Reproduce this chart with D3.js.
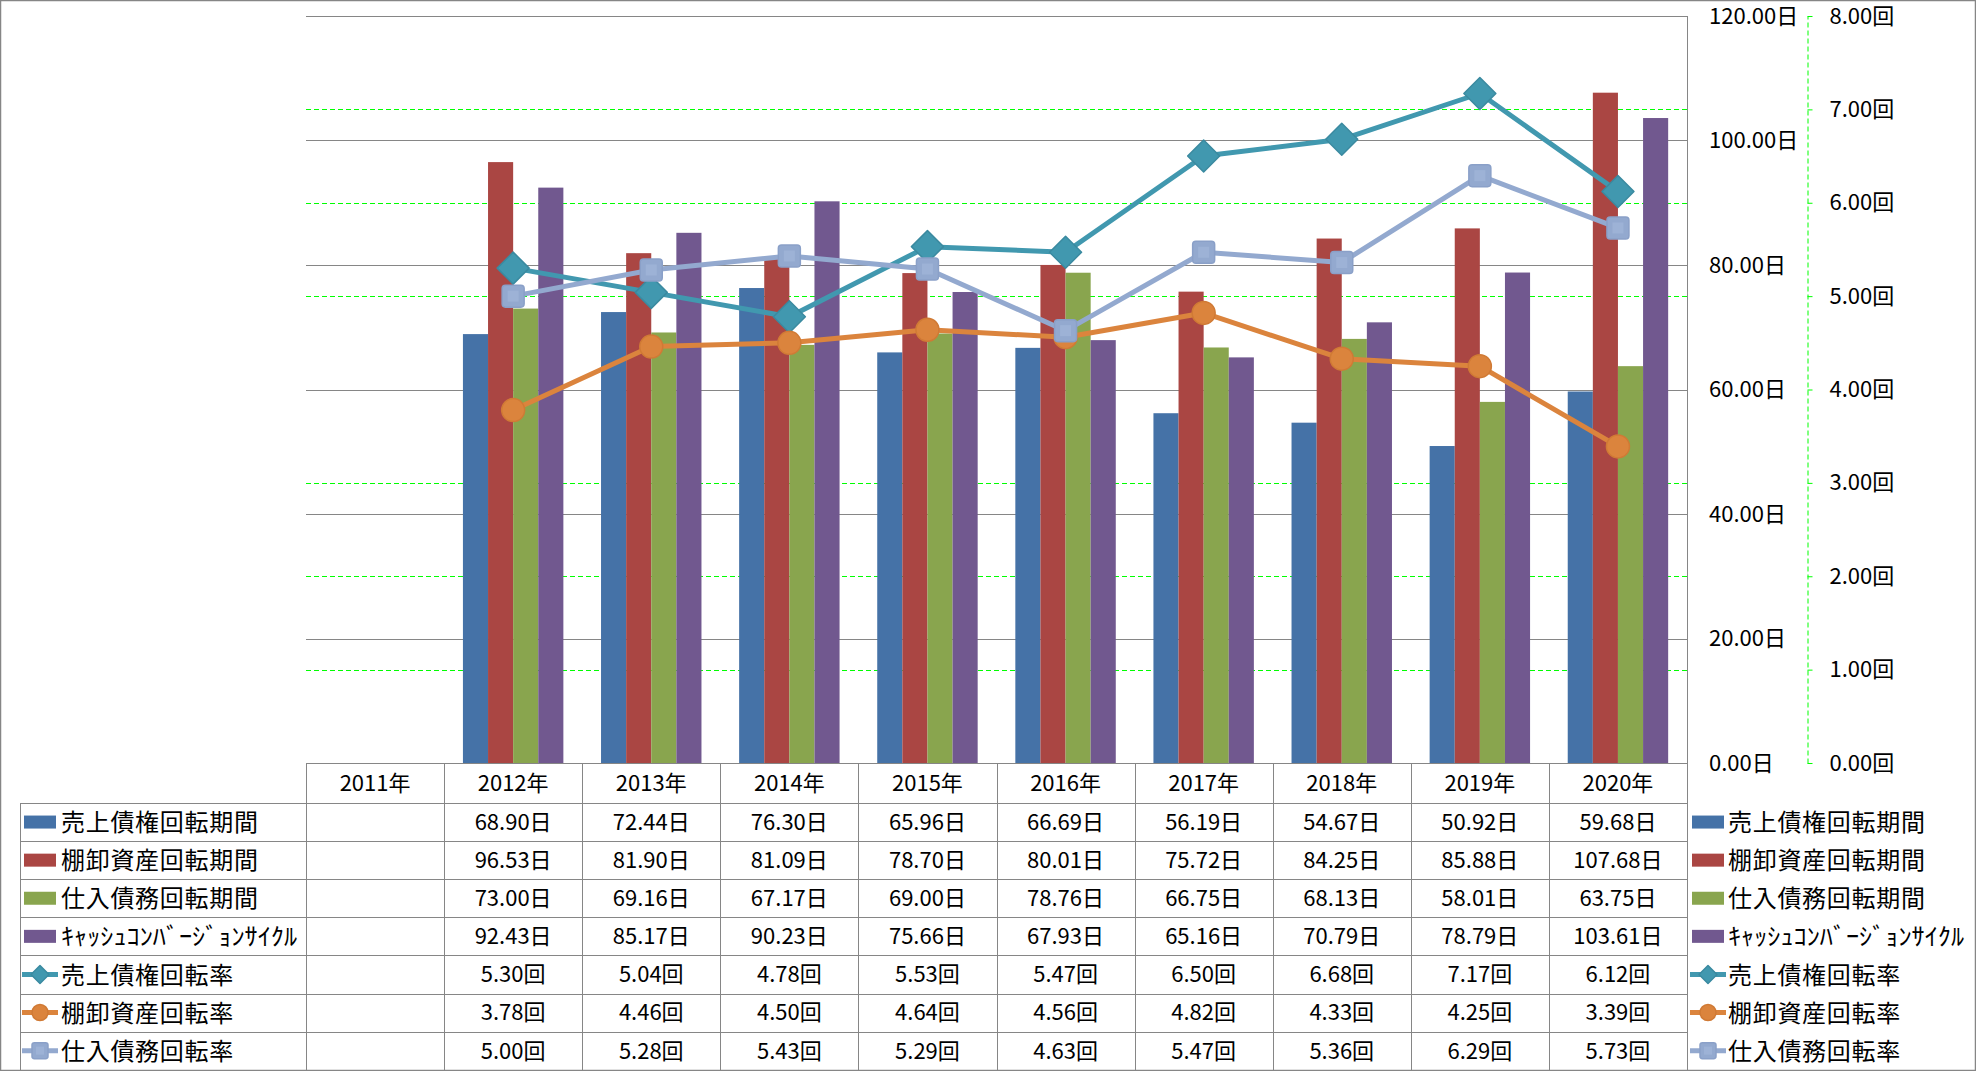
<!DOCTYPE html>
<html><head><meta charset="utf-8">
<script src="https://cdn.jsdelivr.net/npm/d3@7"></script>
<style>
html,body{margin:0;padding:0;background:#fff;}
svg{display:block;}
text{font-family:"Noto Sans CJK JP","Noto Sans",sans-serif;fill:#000;}
</style></head>
<body>
<script>
const years = ["2011年","2012年","2013年","2014年","2015年","2016年","2017年","2018年","2019年","2020年"];
const arDays  = [null,68.90,72.44,76.30,65.96,66.69,56.19,54.67,50.92,59.68];
const invDays = [null,96.53,81.90,81.09,78.70,80.01,75.72,84.25,85.88,107.68];
const apDays  = [null,73.00,69.16,67.17,69.00,78.76,66.75,68.13,58.01,63.75];
const cccDays = [null,92.43,85.17,90.23,75.66,67.93,65.16,70.79,78.79,103.61];
const arTurn  = [null,5.30,5.04,4.78,5.53,5.47,6.50,6.68,7.17,6.12];
const invTurn = [null,3.78,4.46,4.50,4.64,4.56,4.82,4.33,4.25,3.39];
const apTurn  = [null,5.00,5.28,5.43,5.29,4.63,5.47,5.36,6.29,5.73];
const dayTicks = [0,20,40,60,80,100,120];
const turnTicks = [0,1,2,3,4,5,6,7,8];

const barSeries = [
  {name:"売上債権回転期間", values:arDays, color:"#4572A7"},
  {name:"棚卸資産回転期間", values:invDays, color:"#AA4643"},
  {name:"仕入債務回転期間", values:apDays, color:"#89A54E"},
  {name:"ｷｬｯｼｭｺﾝﾊﾞｰｼﾞｮﾝｻｲｸﾙ", values:cccDays, color:"#71588F"}
];
const lineSeries = [
  {name:"売上債権回転率", values:arTurn, color:"#4198AF", stroke:"#3A8AA0", marker:"diamond"},
  {name:"棚卸資産回転率", values:invTurn, color:"#DB843D", stroke:"#D07A35", marker:"circle"},
  {name:"仕入債務回転率", values:apTurn, color:"#93A9CF", stroke:"#8AA0C8", marker:"square"}
];

const W=1976,H=1071;
const L=306,R=1687,T=16,B=763;
const rowTop=803,rowH=38.1,tableLeft=20;
const grid="#868686";

const svg=d3.select("body").append("svg").attr("width",W).attr("height",H);

const x=d3.scaleBand().domain(years).range([L,R]).padding(0);
const xs=d3.scaleBand().domain(barSeries.map(d=>d.name)).range([0,x.bandwidth()]).paddingInner(0).paddingOuter(0.75);
const yL=d3.scaleLinear().domain([0,120]).range([B,T]);
const yR=d3.scaleLinear().domain([0,8]).range([B,T]);

svg.append("rect").attr("x",0.5).attr("y",0.5).attr("width",W-1).attr("height",H-1)
  .attr("fill","none").attr("stroke",grid).attr("stroke-width",1.5);

svg.append("g").selectAll("line").data(turnTicks.filter(t=>t>0&&t<8)).join("line")
  .attr("x1",L).attr("x2",R).attr("y1",d=>Math.round(yR(d))+0.5).attr("y2",d=>Math.round(yR(d))+0.5)
  .attr("stroke","#00FF00").attr("stroke-width",1).attr("stroke-dasharray","5,3");

svg.append("g").selectAll("line").data(dayTicks).join("line")
  .attr("x1",L).attr("x2",R).attr("y1",d=>Math.round(yL(d))+0.5).attr("y2",d=>Math.round(yL(d))+0.5)
  .attr("stroke",grid).attr("stroke-width",1);

svg.append("line").attr("x1",R+0.5).attr("x2",R+0.5).attr("y1",T).attr("y2",H).attr("stroke",grid);

barSeries.forEach(s=>{
  svg.append("g").selectAll("rect").data(years.map((y,i)=>({y,v:s.values[i]})).filter(d=>d.v!=null)).join("rect")
    .attr("x",d=>x(d.y)+xs(s.name)).attr("width",xs.bandwidth())
    .attr("y",d=>yL(d.v)).attr("height",d=>yL(0)-yL(d.v)).attr("fill",s.color);
});

function drawMarker(g,type,cx,cy,size,fill,stroke){
  if(type==="diamond"){
    const h=size/2;
    g.append("path").attr("d",`M${cx},${cy-h}L${cx+h},${cy}L${cx},${cy+h}L${cx-h},${cy}Z`)
      .attr("fill",fill).attr("stroke",stroke).attr("stroke-width",1.5).attr("stroke-linejoin","round");
  } else if(type==="circle"){
    g.append("circle").attr("cx",cx).attr("cy",cy).attr("r",size/2).attr("fill",fill).attr("stroke",stroke).attr("stroke-width",1.5);
  } else {
    const h=size/2;
    g.append("rect").attr("x",cx-h).attr("y",cy-h).attr("width",size).attr("height",size).attr("rx",size*0.15)
      .attr("fill",fill).attr("stroke",stroke).attr("stroke-width",1.5);
    g.append("rect").attr("x",cx-h*0.5).attr("y",cy-h*0.5).attr("width",size*0.5).attr("height",size*0.5)
      .attr("fill","#9DB2D6");
  }
}
const markerSize={diamond:32,circle:23,square:22};

lineSeries.forEach(s=>{
  const pts=years.map((y,i)=>({y,v:s.values[i]})).filter(d=>d.v!=null);
  const g=svg.append("g");
  g.append("path").datum(pts)
    .attr("d",d3.line().x(d=>x(d.y)+x.bandwidth()/2).y(d=>yR(d.v)))
    .attr("fill","none").attr("stroke",s.color).attr("stroke-width",5).attr("stroke-linejoin","round");
  pts.forEach(p=>drawMarker(g,s.marker,x(p.y)+x.bandwidth()/2,yR(p.v),markerSize[s.marker],s.color,s.stroke));
});

const axL=d3.axisRight(yL).tickValues(dayTicks).tickSize(0).tickPadding(22).tickFormat(d=>d3.format(".2f")(d)+"日");
const gL=svg.append("g").attr("transform",`translate(${R},0)`).call(axL);
gL.select(".domain").remove();
gL.selectAll("text").style("font-size","22px").attr("fill","#000");

const axR=d3.axisRight(yR).tickValues(turnTicks).tickSize(8).tickSizeOuter(0).tickPadding(14).tickFormat(d=>d3.format(".2f")(d)+"回");
const gR=svg.append("g").attr("transform",`translate(1807.5,0)`).call(axR);
gR.select(".domain").attr("stroke","#00FF00").attr("stroke-dasharray","5,3");
gR.selectAll(".tick line").attr("stroke","#00FF00").attr("stroke-dasharray","5,3");
gR.selectAll("text").style("font-size","22px").attr("fill","#000");

const tg=svg.append("g");
tg.append("line").attr("x1",L).attr("x2",R).attr("y1",B+0.5).attr("y2",B+0.5).attr("stroke",grid);
const nRows=7;
for(let r=0;r<=nRows;r++){
  const yy=Math.round(rowTop+r*rowH)+0.5;
  tg.append("line").attr("x1",tableLeft).attr("x2",R).attr("y1",yy).attr("y2",yy).attr("stroke",grid);
}
tg.append("line").attr("x1",tableLeft+0.5).attr("x2",tableLeft+0.5).attr("y1",rowTop).attr("y2",H).attr("stroke",grid);
years.forEach(y=>{
  const xx=Math.round(x(y))+0.5;
  tg.append("line").attr("x1",xx).attr("x2",xx).attr("y1",B).attr("y2",H).attr("stroke",grid);
});
tg.selectAll("text.hdr").data(years).join("text").attr("class","hdr")
  .attr("x",d=>x(d)+x.bandwidth()/2).attr("y",(B+rowTop)/2).attr("dy","0.36em")
  .attr("text-anchor","middle").style("font-size","22px").text(d=>d);

const allSeries=[...barSeries.map(s=>({...s,unit:"日",type:"bar"})),...lineSeries.map(s=>({...s,unit:"回",type:"line"}))];
allSeries.forEach((s,r)=>{
  const cy=rowTop+r*rowH+rowH/2;
  years.forEach((y,i)=>{
    const v=s.values[i];
    if(v==null) return;
    tg.append("text").attr("x",x(y)+x.bandwidth()/2).attr("y",cy).attr("dy","0.36em")
      .attr("text-anchor","middle").style("font-size","22px").text(d3.format(".2f")(v)+s.unit);
  });
  [[24,61],[1692,1728]].forEach(([kx,tx])=>{
    if(s.type==="bar"){
      tg.append("rect").attr("x",kx).attr("y",cy-6.5).attr("width",32).attr("height",13).attr("fill",s.color);
    } else {
      tg.append("line").attr("x1",kx-2).attr("x2",kx+34).attr("y1",cy).attr("y2",cy).attr("stroke",s.color).attr("stroke-width",5);
      drawMarker(tg,s.marker,kx+16,cy,s.marker==="diamond"?18:16,s.color,s.stroke);
    }
    const t=tg.append("text").attr("x",tx).attr("y",cy).attr("dy","0.38em").style("font-size","24px")
      .style("letter-spacing","0.7px").text(s.name);
    if(r===3) t.attr("textLength",236).attr("lengthAdjust","spacingAndGlyphs").style("letter-spacing","0px");
  });
});
</script>
</body></html>
